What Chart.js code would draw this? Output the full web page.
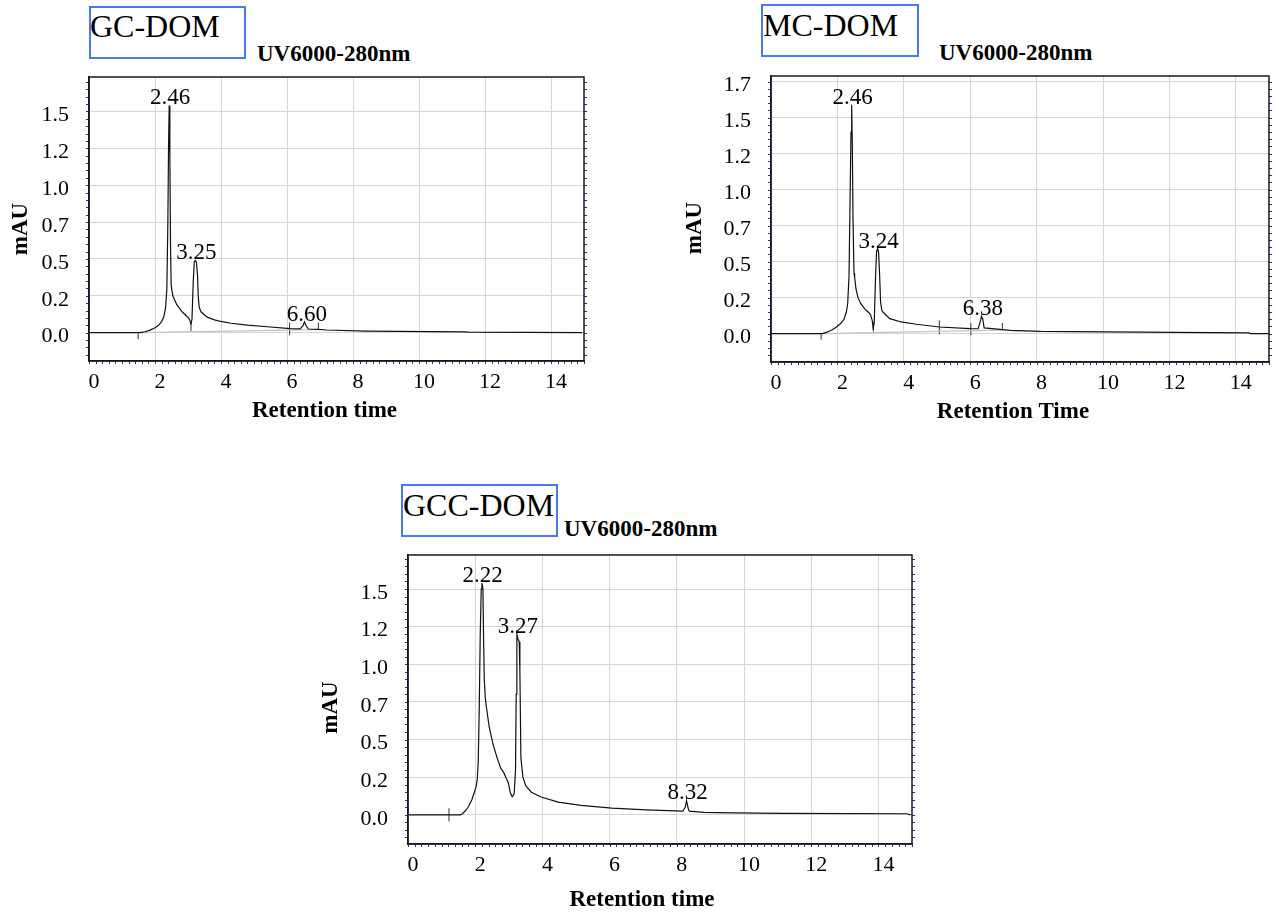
<!DOCTYPE html>
<html>
<head>
<meta charset="utf-8">
<script src="https://cdn.jsdelivr.net/npm/chart.js@4.4.1/dist/chart.umd.min.js"></script>
<style>
  body { margin: 0; background: #fff; width: 1279px; height: 916px; position: relative; overflow: hidden;
         font-family: "Liberation Serif", "Times New Roman", serif; color: #000; }
  canvas { position: absolute; }
  .box { position: absolute; border: 2px solid #4a78f0; box-sizing: border-box; }
  .name { position: absolute; font-size: 32px; line-height: 32px; white-space: nowrap; }
  .uv { position: absolute; font-size: 23px; line-height: 23px; font-weight: bold; white-space: nowrap; }
</style>
</head>
<body>

<div class="box" style="left:89px;top:6px;width:157px;height:53px"></div>
<div class="name" style="left:90px;top:10px">GC-DOM</div>
<div class="uv" style="left:257px;top:42px">UV6000-280nm</div>

<div class="box" style="left:761px;top:4px;width:158px;height:53px"></div>
<div class="name" style="left:763px;top:9px">MC-DOM</div>
<div class="uv" style="left:939px;top:41px">UV6000-280nm</div>

<div class="box" style="left:401px;top:484px;width:157px;height:53px"></div>
<div class="name" style="left:403px;top:489px">GCC-DOM</div>
<div class="uv" style="left:564px;top:517px">UV6000-280nm</div>

<canvas id="gc" width="600" height="360" style="left:0;top:70px"></canvas>
<canvas id="mc" width="599" height="360" style="left:680px;top:70px"></canvas>
<canvas id="gcc" width="604" height="371" style="left:316px;top:545px"></canvas>

<script>
// axis ticks
const xTickValues = [0, 2, 4, 6, 8, 10, 12, 14];
const yTickValues = [0, 0.25, 0.5, 0.75, 1.0, 1.25, 1.5, 1.75];
const yTickLabels = ['0.0', '0.2', '0.5', '0.7', '1.0', '1.2', '1.5', '1.7'];

// GC-DOM chromatogram
const gcTime = [0, 1.0, 1.55, 1.7, 1.85, 2.0, 2.1, 2.2, 2.27, 2.32, 2.36, 2.39, 2.41, 2.43, 2.45, 2.47,
  2.49, 2.54, 2.66, 2.83, 2.97, 3.02, 3.06, 3.09, 3.12, 3.16, 3.19, 3.23, 3.26, 3.29, 3.31, 3.34, 3.4,
  3.58, 3.8, 4.0, 4.3, 4.8, 5.4, 6.1, 6.4, 6.48, 6.53, 6.58, 6.65, 6.95, 7.2, 8.4, 11.4, 11.5, 14.95];
const gcSignal = [0, 0, 0, 0.006, 0.017, 0.033, 0.048, 0.075, 0.11, 0.17, 0.3, 0.75, 1.25, 1.54, 1.2, 0.6,
  0.32, 0.25, 0.19, 0.14, 0.11, 0.1, 0.08, 0.06, 0.09, 0.35, 0.48, 0.49, 0.47, 0.38, 0.25, 0.17, 0.14,
  0.105, 0.087, 0.076, 0.064, 0.051, 0.04, 0.028, 0.026, 0.045, 0.073, 0.045, 0.025, 0.022, 0.018, 0.011, 0.006, 0.004, 0.0];
const gcBaseTime = [1.49, 6.95];
const gcBaseValue = [0.0, 0.02];
const gcMarkTime = [1.49, 3.09, 6.08, 6.95];
const gcMarkLow = [-0.045, 0.01, -0.018, 0.018];
const gcMarkHigh = [0.0, 0.08, 0.068, 0.068];
const gcPeakLabels = ['2.46', '3.25', '6.60'];

// MC-DOM chromatogram
const mcTime = [0, 1.55, 1.68, 1.85, 1.97, 2.1, 2.2, 2.27, 2.31, 2.35, 2.38, 2.41, 2.43, 2.45, 2.47, 2.5,
  2.52, 2.56, 2.62, 2.7, 2.83, 2.95, 3.0, 3.05, 3.08, 3.11, 3.15, 3.18, 3.21, 3.24, 3.27, 3.3, 3.34, 3.41,
  3.58, 3.92, 4.38, 5.07, 6.0, 6.24, 6.3, 6.34, 6.38, 6.42, 6.97, 7.2, 8.12, 10.02, 14.4, 14.45, 15];
const mcSignal = [0, 0, 0.01, 0.027, 0.046, 0.07, 0.1, 0.15, 0.21, 0.4, 0.9, 1.4, 1.59, 1.3, 0.8, 0.42,
  0.39, 0.31, 0.25, 0.21, 0.17, 0.145, 0.13, 0.09, 0.035, 0.08, 0.4, 0.57, 0.59, 0.57, 0.42, 0.22, 0.16, 0.14,
  0.104, 0.081, 0.065, 0.046, 0.035, 0.034, 0.08, 0.12, 0.1, 0.04, 0.028, 0.023, 0.016, 0.012, 0.005, 0.0, 0.0];
const mcBaseTime = [1.51, 6.97];
const mcBaseValue = [0.0, 0.025];
const mcMarkTime = [1.51, 3.08, 5.07, 6.02, 6.97];
const mcMarkLow = [-0.042, 0.023, -0.005, -0.012, 0.023];
const mcMarkHigh = [0.0, 0.08, 0.092, 0.074, 0.074];
const mcPeakLabels = ['2.46', '3.24', '6.38'];

// GCC-DOM chromatogram
const gccTime = [0, 1.56, 1.62, 1.7, 1.79, 1.9, 1.96, 2.02, 2.06, 2.09, 2.12, 2.15, 2.18, 2.2, 2.23, 2.25,
  2.27, 2.3, 2.33, 2.42, 2.53, 2.65, 2.76, 2.85, 2.93, 2.99, 3.04, 3.1, 3.16, 3.2, 3.22, 3.24, 3.27, 3.31,
  3.33, 3.36, 3.42, 3.5, 3.67, 3.96, 4.47, 5.15, 6.07, 7.09, 8.18, 8.25, 8.29, 8.33, 8.37, 8.8, 9.71, 11.2, 14.85, 14.96];
const gccSignal = [0, 0, 0.007, 0.025, 0.05, 0.1, 0.14, 0.18, 0.23, 0.35, 0.7, 1.2, 1.5, 1.54, 1.5, 1.16,
  0.9, 0.78, 0.72, 0.58, 0.47, 0.38, 0.31, 0.28, 0.24, 0.21, 0.15, 0.12, 0.14, 0.3, 0.8, 1.2, 1.17, 1.15,
  0.95, 0.38, 0.25, 0.195, 0.15, 0.118, 0.084, 0.062, 0.044, 0.033, 0.024, 0.05, 0.095, 0.05, 0.024, 0.016, 0.013, 0.009, 0.007, 0.0];
const gccBaseTime = [];
const gccBaseValue = [];
const gccMarkTime = [1.22];
const gccMarkLow = [-0.044];
const gccMarkHigh = [0.044];
const gccPeakLabels = ['2.22', '3.27', '8.32'];

const FONT = '"Liberation Serif", "Times New Roman", serif';
Chart.defaults.font.family = FONT;
Chart.defaults.color = '#000';

const pts = (xs, ys) => xs.map((t, i) => ({ x: t, y: ys[i] }));
const markPts = (ts, lo, hi) => ts.flatMap((t, i) => [{ x: t, y: lo[i] }, { x: t, y: hi[i] }, { x: t, y: null }]);

// frame, blue minor ticks, peak labels and axis titles
function decor(p) {
  return {
    id: 'decor',
    afterDatasetsDraw(chart) {
      const { ctx, chartArea: a, scales: { x, y } } = chart;
      ctx.save();
      ctx.strokeStyle = '#2b2bb0';
      ctx.lineWidth = 1;
      ctx.beginPath();
      for (let v = Math.ceil(y.min / 0.05) * 0.05; v <= y.max; v += 0.05) {
        const py = Math.round(y.getPixelForValue(v)) + 0.5;
        ctx.moveTo(a.left - 3, py); ctx.lineTo(a.left, py);
        ctx.moveTo(a.right, py); ctx.lineTo(a.right + 3, py);
      }
      for (let v = 0; v <= x.max + 1e-6; v += 0.2) {
        const px = Math.round(x.getPixelForValue(v)) + 0.5;
        ctx.moveTo(px, a.bottom); ctx.lineTo(px, a.bottom + 3);
      }
      ctx.stroke();

      ctx.strokeStyle = '#1a1a1a';
      ctx.lineWidth = 1.5;
      ctx.strokeRect(a.left, a.top, a.right - a.left, a.bottom - a.top);

      ctx.fillStyle = '#000';
      ctx.font = '23px ' + FONT;
      ctx.textAlign = 'center';
      ctx.textBaseline = 'alphabetic';
      p.peakLabels.forEach(lbl => {
        const t = parseFloat(lbl);
        let top = 0;
        p.time.forEach((tt, i) => { if (Math.abs(tt - t) <= 0.1) top = Math.max(top, p.signal[i]); });
        ctx.fillText(lbl, x.getPixelForValue(t), y.getPixelForValue(top) - 1);
      });

      // axis titles
      ctx.font = 'bold 23px ' + FONT;
      ctx.textBaseline = 'middle';
      ctx.fillText(p.xTitle, (a.left + a.right) / 2 + p.xTitleDx, p.xTitleY);
      ctx.translate(p.yTitleX, (a.top + a.bottom) / 2 + p.yTitleDy);
      ctx.rotate(-Math.PI / 2);
      ctx.fillText('mAU', 0, 0);
      ctx.restore();
    }
  };
}

function drawPanel(id, p) {
  new Chart(document.getElementById(id), {
    type: 'line',
    data: {
      datasets: [
        { data: pts(p.time, p.signal), borderColor: '#111', borderWidth: 1.2 },
        { data: pts(p.baseTime, p.baseValue), borderColor: '#c4c4c4', borderWidth: 1.2 },
        { data: markPts(p.markTime, p.markLow, p.markHigh), borderColor: '#333', borderWidth: 1 }
      ]
    },
    options: {
      responsive: false,
      animation: false,
      events: [],
      devicePixelRatio: 1,
      layout: { padding: { top: p.padTop, right: p.padRight, left: 0, bottom: 0 } },
      elements: { point: { radius: 0 }, line: { tension: 0 } },
      plugins: { legend: { display: false }, tooltip: { enabled: false } },
      scales: {
        x: {
          type: 'linear', min: 0, max: 15,
          afterBuildTicks: s => { s.ticks = xTickValues.map(v => ({ value: v })); },
          afterFit: s => { s.height = p.xH; s.paddingLeft = 0; s.paddingRight = 0; },
          ticks: { padding: 8, maxRotation: 0, labelOffset: 5, font: { size: 22 }, color: '#000' },
          grid: { color: '#d6d6d6', drawTicks: false },
          border: { color: '#111', width: 1.5 }
        },
        y: {
          type: 'linear', min: p.yMin, max: p.yMax,
          afterBuildTicks: s => { s.ticks = yTickValues.filter(v => v <= s.max).map(v => ({ value: v })); },
          afterFit: s => { s.width = p.yW; s.paddingTop = 0; s.paddingBottom = 0; },
          ticks: { padding: 20, labelOffset: 4, font: { size: 22 }, color: '#000',
                   callback: v => yTickLabels[yTickValues.indexOf(v)] },
          grid: { color: '#d6d6d6', drawTicks: false },
          border: { color: '#111', width: 1.5 }
        }
      }
    },
    plugins: [decor(p)]
  });
}

drawPanel('gc', {
  time: gcTime, signal: gcSignal, baseTime: gcBaseTime, baseValue: gcBaseValue,
  markTime: gcMarkTime, markLow: gcMarkLow, markHigh: gcMarkHigh, peakLabels: gcPeakLabels,
  xTitle: 'Retention time', yMin: -0.192, yMax: 1.733,
  padTop: 7, padRight: 16, yW: 89, xH: 69,
  xTitleDx: -12, xTitleY: 341, yTitleX: 21, yTitleDy: 10
});
drawPanel('mc', {
  time: mcTime, signal: mcSignal, baseTime: mcBaseTime, baseValue: mcBaseValue,
  markTime: mcMarkTime, markLow: mcMarkLow, markHigh: mcMarkHigh, peakLabels: mcPeakLabels,
  xTitle: 'Retention Time', yMin: -0.197, yMax: 1.789,
  padTop: 6, padRight: 10, yW: 91, xH: 68,
  xTitleDx: -7, xTitleY: 342, yTitleX: 15, yTitleDy: 9
});
drawPanel('gcc', {
  time: gccTime, signal: gccSignal, baseTime: gccBaseTime, baseValue: gccBaseValue,
  markTime: gccMarkTime, markLow: gccMarkLow, markHigh: gccMarkHigh, peakLabels: gccPeakLabels,
  xTitle: 'Retention time', yMin: -0.194, yMax: 1.726,
  padTop: 10, padRight: 8, yW: 92, xH: 72,
  xTitleDx: -18, xTitleY: 355, yTitleX: 15.5, yTitleDy: 8
});
</script>
</body>
</html>
